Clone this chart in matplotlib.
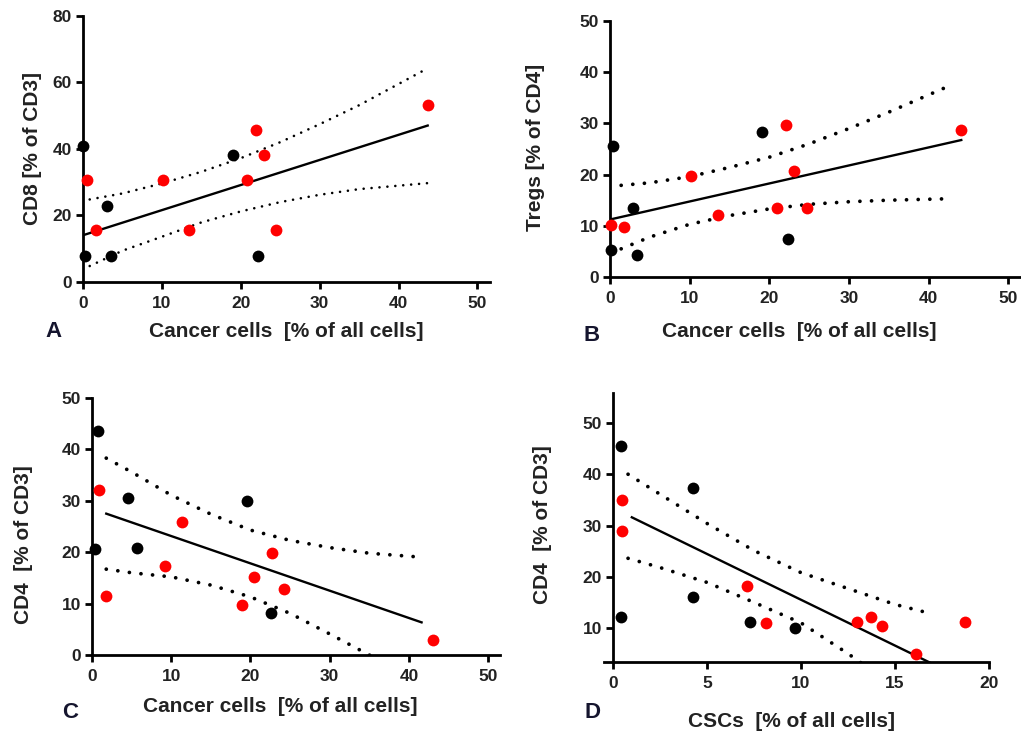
import numpy as np
import matplotlib
matplotlib.use("Agg")
import matplotlib.pyplot as plt

plt.rcParams['font.family'] = ['Liberation Sans', 'DejaVu Sans']
plt.rcParams['font.weight'] = 'bold'

# ---- Panel A: CD8 vs cancer cells ----
a_black_x = [0.0, 0.3, 3.05, 3.5, 19.0, 22.2]
a_black_y = [41.0, 7.8, 22.9, 7.8, 38.1, 7.8]
a_red_x = [0.55, 1.7, 10.2, 13.4, 20.8, 21.95, 22.97, 24.5, 43.7]
a_red_y = [30.6, 15.5, 30.6, 15.5, 30.6, 45.6, 38.1, 15.5, 53.1]
a_fit_x = [0.2, 43.7]
a_fit_y = [14.2, 47.0]
a_band_x = [0.85, 5, 10, 15, 20, 25, 30, 35, 43.7]
a_upper = [24.8, 26.6, 29.6, 33.1, 37.2, 42.0, 47.4, 53.1, 64.2]
a_lower = [4.8, 9.4, 13.6, 17.9, 21.2, 24.0, 26.2, 27.9, 29.7]

# ---- Panel B: Tregs vs cancer cells ----
b_black_x = [0.4, 0.1, 2.9, 3.35, 19.1, 22.3]
b_black_y = [25.5, 5.2, 13.4, 4.35, 28.4, 7.4]
b_red_x = [0.1, 1.7, 10.2, 13.5, 21.0, 22.1, 23.1, 24.7, 44.1]
b_red_y = [10.2, 9.7, 19.8, 12.1, 13.4, 29.7, 20.7, 13.4, 28.8]
b_fit_x = [0.2, 44.1]
b_fit_y = [11.3, 26.75]
b_band_x = [1.4, 5, 10, 15, 20, 25, 30, 35, 43]
b_upper = [17.9, 18.4, 19.6, 21.4, 23.4, 26.0, 29.0, 32.2, 37.6]
b_lower = [5.5, 7.8, 10.3, 12.0, 13.3, 14.2, 14.7, 15.0, 15.3]

# ---- Panel C: CD4 vs cancer cells ----
c_black_x = [0.75, 0.4, 4.6, 5.7, 19.6, 22.6]
c_black_y = [43.6, 20.6, 30.6, 20.9, 30.0, 8.1]
c_red_x = [0.85, 1.8, 9.2, 11.3, 18.9, 20.4, 22.7, 24.2, 43.1]
c_red_y = [32.1, 11.5, 17.4, 25.8, 9.7, 15.1, 19.9, 12.9, 3.0]
c_fit_x = [1.8, 41.6]
c_fit_y = [27.5, 6.35]
c_band_x = [1.8, 5, 10, 15, 20, 25, 30, 35, 41]
c_upper = [38.3, 35.6, 31.1, 27.4, 24.3, 22.3, 20.9, 19.8, 19.1]
c_lower = [16.7, 16.0, 15.2, 13.6, 11.3, 8.1, 4.1, 0.0, -5.7]

# ---- Panel D: CD4 vs CSCs ----
d_black_x = [0.4, 0.4, 4.25, 4.25, 7.3, 9.7]
d_black_y = [45.6, 12.1, 37.4, 16.0, 11.2, 10.1]
d_red_x = [0.5, 0.5, 7.15, 8.15, 13.0, 13.7, 14.3, 16.1, 18.7]
d_red_y = [35.0, 29.0, 18.1, 11.0, 11.2, 12.1, 10.3, 5.0, 11.2]
d_fit_x = [1.0, 17.0]
d_fit_y = [31.6, 3.0]
d_band_x = [0.8, 2.5, 5, 7.5, 10, 12.5, 15, 16.5]
d_upper = [40.0, 36.1, 30.4, 25.1, 20.8, 17.7, 14.6, 13.2]
d_lower = [23.6, 21.8, 18.9, 15.0, 11.0, 5.0, -1.5, -5.4]

W, H = 1021, 733
fig = plt.figure(figsize=(W / 100, H / 100), dpi=100)


def px_axes(left, right, top, bottom):
    return fig.add_axes([left / W, 1 - bottom / H, (right - left) / W, (bottom - top) / H])


def panel(ax, bx, by, rx, ry, fx, fy, cx, cu, cl, dot_lw, dot_gap):
    ax.plot(cx, cu, color='black', lw=dot_lw, linestyle=(0, (0.01, dot_gap)),
            dash_capstyle='round', zorder=2)
    ax.plot(cx, cl, color='black', lw=dot_lw, linestyle=(0, (0.01, dot_gap)),
            dash_capstyle='round', zorder=2)
    ax.plot(fx, fy, color='black', lw=1.7, zorder=2)
    ax.plot(bx, by, 'o', color='black', ms=8.5, mew=0, clip_on=False, zorder=4)
    ax.plot(rx, ry, 'o', color='#ff0000', ms=8.5, mew=0, clip_on=False, zorder=4)
    for s in ['top', 'right']:
        ax.spines[s].set_visible(False)
    for s in ['left', 'bottom']:
        ax.spines[s].set_linewidth(2.0)
    ax.tick_params(width=2.0, length=5, labelsize=12.5, colors='black',
                   labelcolor='#222222')
    ax.tick_params(axis='x', pad=5)
    ax.tick_params(axis='y', pad=3)
    ax.patch.set_alpha(0)


lab_kw = dict(fontsize=15, fontweight='bold', color='#222222')

# A
axA = px_axes(83, 490, 15.7, 282)
panel(axA, a_black_x, a_black_y, a_red_x, a_red_y, a_fit_x, a_fit_y,
      a_band_x, a_upper, a_lower, 1.9, 3.0)
axA.set_xlim(0, 51.6)
axA.set_ylim(0, 80)
axA.set_xticks([0, 10, 20, 30, 40, 50])
axA.set_yticks([0, 20, 40, 60, 80])
axA.set_xlabel('Cancer cells  [% of all cells]', **lab_kw)
axA.set_ylabel('CD8 [% of CD3]', **lab_kw)
axA.xaxis.set_label_coords(0.499, -0.15)
axA.yaxis.set_label_coords(-0.101, 0.5)

# B
axB = px_axes(610, 1021, 21, 277)
panel(axB, b_black_x, b_black_y, b_red_x, b_red_y, b_fit_x, b_fit_y,
      b_band_x, b_upper, b_lower, 2.7, 3.1)
axB.set_xlim(0, 51.6)
axB.set_ylim(0, 50)
axB.set_xticks([0, 10, 20, 30, 40, 50])
axB.set_yticks([0, 10, 20, 30, 40, 50])
axB.set_xlabel('Cancer cells  [% of all cells]', **lab_kw)
axB.set_ylabel('Tregs [% of CD4]', **lab_kw)
axB.xaxis.set_label_coords(0.46, -0.176)
axB.yaxis.set_label_coords(-0.158, 0.508)

# C
axC = px_axes(92, 500, 398, 655)
panel(axC, c_black_x, c_black_y, c_red_x, c_red_y, c_fit_x, c_fit_y,
      c_band_x, c_upper, c_lower, 2.7, 3.1)
axC.set_xlim(0, 51.5)
axC.set_ylim(0, 50)
axC.set_xticks([0, 10, 20, 30, 40, 50])
axC.set_yticks([0, 10, 20, 30, 40, 50])
axC.set_xlabel('Cancer cells  [% of all cells]', **lab_kw)
axC.set_ylabel('CD4  [% of CD3]', **lab_kw)
axC.xaxis.set_label_coords(0.461, -0.163)
axC.yaxis.set_label_coords(-0.145, 0.428)

# D
axD = px_axes(604, 989, 393, 662)
panel(axD, d_black_x, d_black_y, d_red_x, d_red_y, d_fit_x, d_fit_y,
      d_band_x, d_upper, d_lower, 2.7, 3.1)
axD.set_xlim(-0.48, 20)
axD.set_ylim(3.37, 55.85)
axD.spines['left'].set_position(('data', 0))
axD.set_xticks([0, 5, 10, 15, 20])
axD.set_yticks([10, 20, 30, 40, 50])
axD.set_xlabel('CSCs  [% of all cells]', **lab_kw)
axD.set_ylabel('CD4  [% of CD3]', **lab_kw)
axD.xaxis.set_label_coords(0.486, -0.186)
axD.yaxis.set_label_coords(-0.135, 0.509)

# panel letters
for letter, x, y in [('A', 53, 332), ('B', 592, 335), ('C', 70, 712), ('D', 593, 713)]:
    fig.text(x / W, 1 - y / H, letter, fontsize=16, fontweight='bold',
             color='#15152e', ha='center', va='center')

fig.savefig('out.png', dpi=100)
